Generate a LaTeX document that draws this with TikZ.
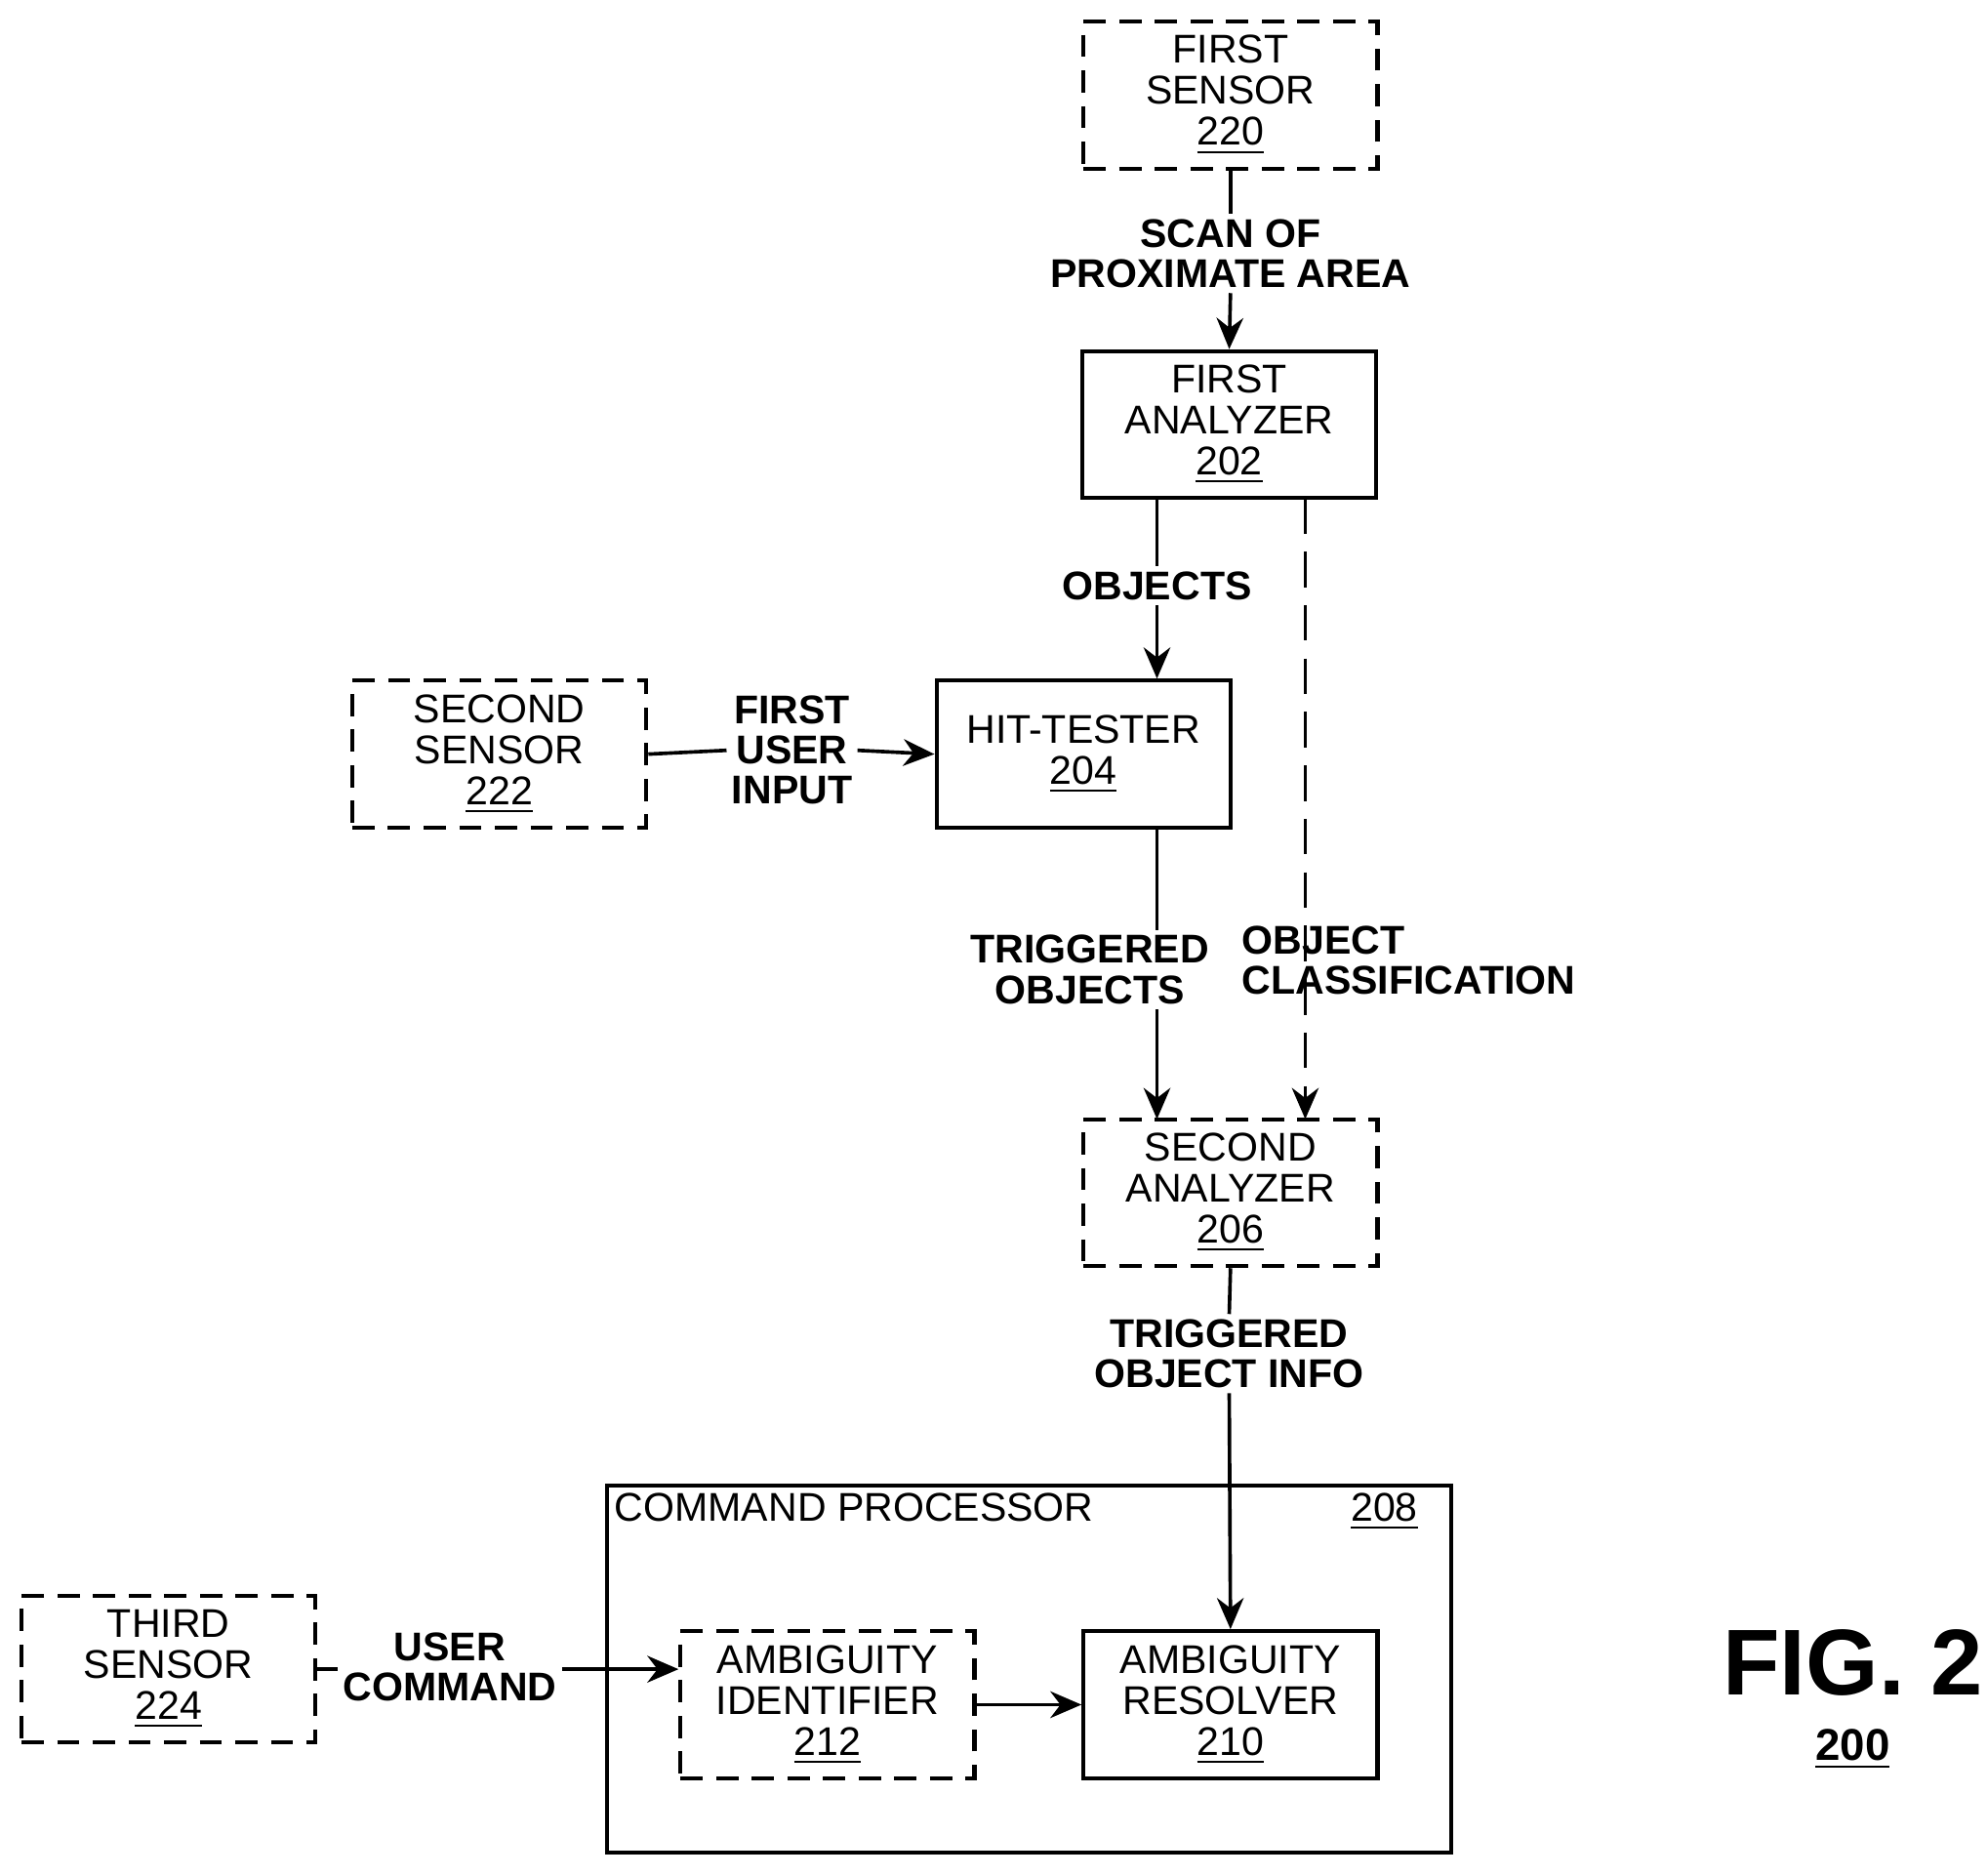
\documentclass[tikz,border=0pt]{standalone}
\usepackage{fontspec}
\setmainfont{Liberation Sans}
\usetikzlibrary{arrows.meta}
\tikzset{
  blk/.style={draw, line width=0.9pt, minimum width=2.32cm, minimum height=1.16cm, align=center, inner sep=0pt, font=\fontsize{9}{9.2}\selectfont},
  dblk/.style={blk, dash pattern=on 5pt off 3pt},
  lbl/.style={align=center, inner sep=1pt, font=\bfseries\fontsize{9}{9}\selectfont},
  arr/.style={-{Stealth[length=7pt,width=6pt]}, line width=0.8pt}
}
\begin{document}
\begin{tikzpicture}
\useasboundingbox (0,0) rectangle (15.68,-14.80);
%Sensors and analyzers
\node[dblk] (S1) at (9.71,-0.75) {FIRST\\SENSOR\\\underline{220}};
\node[blk] (A1) at (9.70,-3.35) {FIRST\\ANALYZER\\\underline{202}};
\node[blk] (HT) at (8.55,-5.95) {HIT-TESTER\\\underline{204}};
\node[dblk] (S2) at (3.94,-5.95) {SECOND\\SENSOR\\\underline{222}};
\node[dblk] (A2) at (9.71,-9.41) {SECOND\\ANALYZER\\\underline{206}};
%Command processor
\node[draw, line width=0.9pt, minimum width=6.66cm, minimum height=2.90cm] (CP) at (8.12,-13.17) {};
\node[anchor=north west, inner sep=2pt, font=\fontsize{9}{9}\selectfont] (CPname) at (CP.north west) {COMMAND PROCESSOR};
\node[anchor=north east, inner sep=2pt, font=\fontsize{9}{9}\selectfont] (CPnum) at ([xshift=-0.2cm]CP.north east) {\underline{208}};
\node[blk] (AR) at (9.71,-13.45) {AMBIGUITY\\RESOLVER\\\underline{210}};
\node[dblk] (AI) at (6.53,-13.45) {AMBIGUITY\\IDENTIFIER\\\underline{212}};
\node[dblk] (S3) at (1.33,-13.17) {THIRD\\SENSOR\\\underline{224}};
%Labels
\node[lbl] (scan) at (9.71,-2.00) {SCAN OF\\PROXIMATE AREA};
\node[lbl] (obj) at (9.13,-4.62) {OBJECTS};
\node[lbl] (fui) at (6.25,-5.92) {FIRST\\USER\\INPUT};
\node[lbl] (trg) at (8.60,-7.65) {TRIGGERED\\OBJECTS};
\node[lbl, anchor=west, align=left] (cls) at (9.76,-7.58) {OBJECT\\CLASSIFICATION};
\node[lbl] (toi) at (9.70,-10.68) {TRIGGERED\\OBJECT INFO};
\node[lbl] (uc) at (3.55,-13.15) {USER\\COMMAND};
\node[font=\bfseries\fontsize{21}{21}\selectfont] (fig) at (14.62,-13.12) {FIG. 2};
\node[font=\bfseries\fontsize{10}{10}\selectfont] (num) at (14.62,-13.80) {\underline{200}};
%Connectors
\coordinate (objTop) at (9.13,-3.93);
\coordinate (clsTop) at (10.30,-3.93);
\coordinate (clsBot) at (10.30,-8.83);
\coordinate (trgTop) at (9.13,-6.53);
\coordinate (trgBot) at (9.13,-8.83);
\draw[line width=0.8pt] (S1.south) -- (scan.north);
\draw[arr] (scan.south) -- (A1.north);
\draw[line width=0.8pt] (objTop) -- (obj.north);
\draw[arr] (obj.south) -- (obj.south |- HT.north);
\draw[arr, dash pattern=on 8pt off 4pt] (clsTop) -- (clsBot);
\draw[line width=0.8pt] (S2.east) -- (fui.west);
\draw[arr] (fui.east) -- (HT.west);
\draw[line width=0.8pt] (trgTop) -- (trg.north -| trgTop);
\draw[arr] (trg.south -| trgTop) -- (trgBot);
\draw[line width=0.8pt] (A2.south) -- (toi.north);
\draw[arr] (toi.south) -- (AR.north);
\draw[line width=0.8pt] (S3.east) -- (uc.west |- S3.east);
\draw[arr] (uc.east |- S3.east) -- (S3.east -| AI.west);
\draw[arr] (AI.east) -- (AR.west);
\end{tikzpicture}
\end{document}
